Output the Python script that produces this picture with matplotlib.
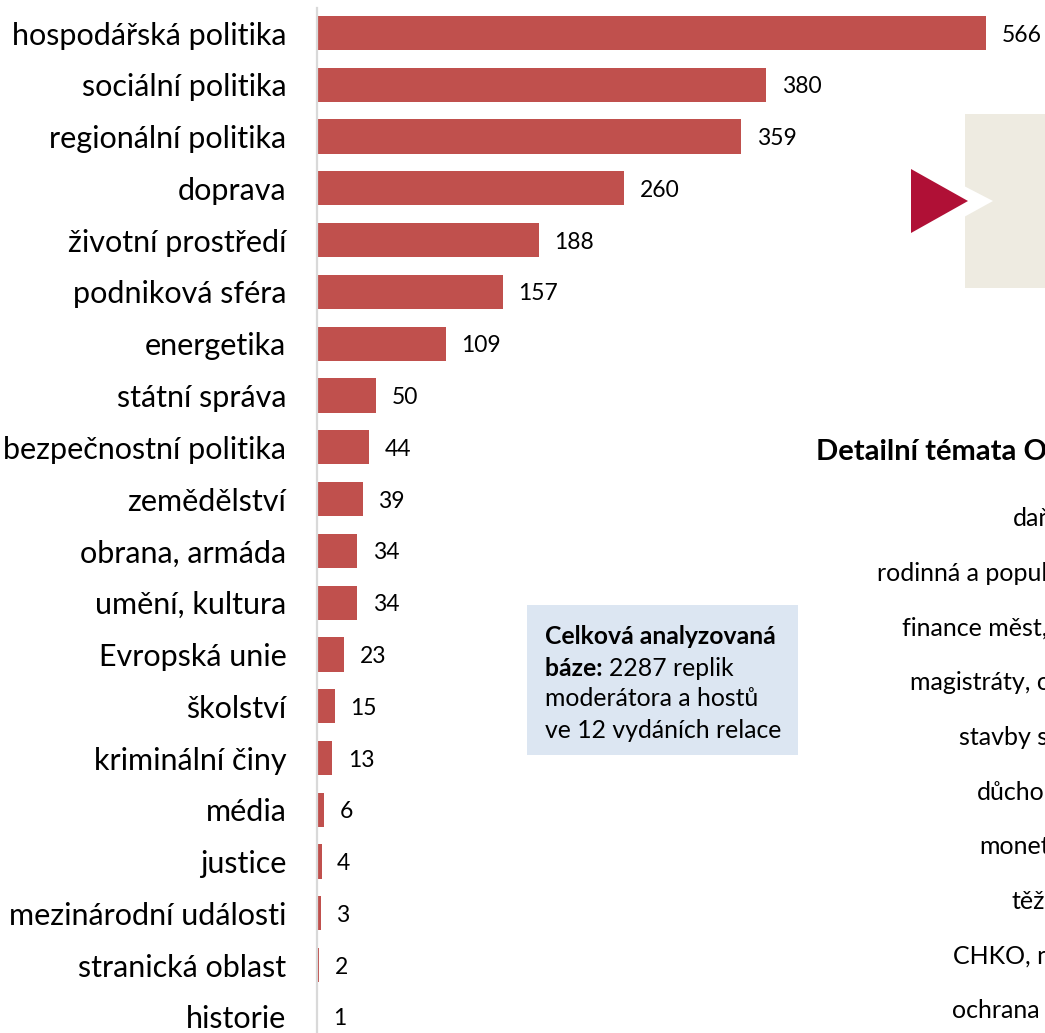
import matplotlib.pyplot as plt
from matplotlib.patches import Rectangle, Polygon

plt.rcParams["font.family"] = ["Lato", "DejaVu Sans"]

topics = ["hospodářská politika", "sociální politika", "regionální politika", "doprava",
          "životní prostředí", "podniková sféra", "energetika", "státní správa",
          "bezpečnostní politika", "zemědělství", "obrana, armáda", "umění, kultura",
          "Evropská unie", "školství", "kriminální činy", "média", "justice",
          "mezinárodní události", "stranická oblast", "historie"]
counts = [566, 380, 359, 260, 188, 157, 109, 50, 44, 39, 34, 34, 23, 15, 13, 6, 4, 3, 2, 1]

# the right-hand panel is cut off by the frame, only the visible parts are kept
detail_title = "Detailní témata O"
detail_topics = ["daň", "rodinná a popul", "finance měst,", "magistráty, o", "stavby s",
                 "důcho", "monet", "těž", "CHKO, na", "ochrana"]
detail_x = [1013, 877, 902, 910, 959, 977, 979, 1011, 953, 952]

W, H = 1045, 1033
fig = plt.figure(figsize=(W / 100, H / 100), dpi=100)

ax = fig.add_axes([317 / W, 0, (W - 317) / W, 1 - 8 / H])
ypos = list(range(len(topics)))
ax.barh(ypos, counts, height=0.66, color="#C0504D")
ax.set_xlim(0, (W - 317) / 1.182)
ax.set_ylim(19.31, -0.483)
for y, v in zip(ypos, counts):
    ax.text(v + 13, y, str(v), va="center_baseline", ha="left", fontsize=16.5, color="#000000")
ax.set_yticks(ypos)
ax.set_yticklabels(topics, fontsize=22)
ax.tick_params(axis="y", length=0, pad=22)
ax.set_xticks([])
for s in ["top", "right", "bottom"]:
    ax.spines[s].set_visible(False)
ax.spines["left"].set_color("#D9D9D9")
ax.spines["left"].set_linewidth(1.6)
ax.patch.set_visible(False)

def px(x, y):
    return (x / W, 1 - y / H)

# beige panel with notch and red arrow
tr = fig.transFigure
fig.add_artist(Rectangle(px(965, 288), (W - 965) / W, (288 - 114) / H,
                         transform=tr, facecolor="#EEEBE1", edgecolor="none"))
fig.add_artist(Polygon([px(964, 186), px(993, 201), px(964, 217)], closed=True,
                       transform=tr, facecolor="white", edgecolor="none"))
fig.add_artist(Polygon([px(911, 169), px(968, 201), px(911, 233)], closed=True,
                       transform=tr, facecolor="#B01036", edgecolor="none"))

# info box
fig.add_artist(Rectangle(px(527, 755), (798 - 527) / W, (755 - 605) / H,
                         transform=tr, facecolor="#DCE6F2", edgecolor="none"))
fs_box = 17.8
fig.text(545 / W, 1 - 635 / H, "Celková analyzovaná", fontsize=fs_box, fontweight="bold", va="center_baseline")
bz = fig.text(545 / W, 1 - 666 / H, "báze: ", fontsize=fs_box, fontweight="bold", va="center_baseline")
fig.canvas.draw()
bz_end = bz.get_window_extent().x1 / W
fig.text(bz_end, 1 - 666 / H, "2287 replik", fontsize=fs_box, va="center_baseline")
fig.text(545 / W, 1 - 697 / H, "moderátora a hostů", fontsize=fs_box, va="center_baseline")
fig.text(545 / W, 1 - 728 / H, "ve 12 vydáních relace", fontsize=fs_box, va="center_baseline")

fig.text(816 / W, 1 - 450 / H, detail_title, fontsize=21, fontweight="bold", va="center_baseline")
for i, (t, x) in enumerate(zip(detail_topics, detail_x)):
    fig.text(x / W, 1 - (517 + i * 54.6) / H, t, fontsize=18, va="center_baseline")

fig.savefig("out.png", dpi=100)
